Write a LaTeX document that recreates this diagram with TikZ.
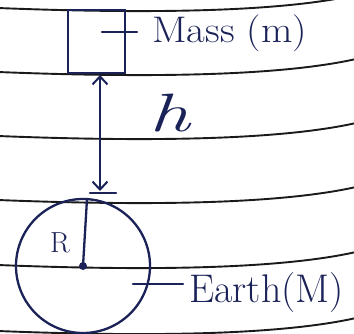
\documentclass[tikz,border=0pt]{standalone}
\usetikzlibrary{arrows.meta}
\definecolor{ink}{HTML}{1B2258}
\definecolor{rule}{HTML}{1A1A1A}
\tikzset{
  ruled/.style={draw=rule, line width=1.9pt},
  pen/.style={draw=ink, line width=2.3pt, line cap=round},
  hand/.style={text=ink, inner sep=0pt},
  barbs/.style={{Straight Barb[length=8pt,width=15pt,line width=2pt]}-{Straight Barb[length=8pt,width=15pt,line width=2pt]}}
}
\begin{document}
\begin{tikzpicture}[x=1pt,y=-1pt]
\useasboundingbox (0,0) rectangle (354,333);
\fill[white] (0,0) rectangle (354,333);
\begin{scope}
\clip (0,0) rectangle (354,333);
% ruled lines
\foreach \L in {8,72,136,200,265,331}{
  \draw[ruled] (-2,\L) .. controls (150,\L+6) and (280,\L+4) .. (356,\L-13);
}
% mass box
\node[pen, rectangle, minimum width=57pt, minimum height=63pt, inner sep=0pt] (mass) at (96.5,41.5) {};
% earth
\node[pen, circle, minimum size=134pt, inner sep=0pt] (earth) at (83,266) {};
\fill[ink] (earth.center) circle (4pt);
\coordinate (rtop) at (87,199);
\draw[pen] (earth.center) -- (rtop);
\node[hand, font=\fontsize{29}{29}\selectfont] (R) at (60,243) {R};
% tick at top of earth
\coordinate (tl) at (90,193);
\coordinate (tr) at (116,193);
\draw[pen] (tl) -- (tr);
% height arrow
\coordinate (atop) at (100,75);
\coordinate (abot) at (100,191);
\draw[pen, barbs] (atop) -- (abot);
\node[hand, font=\fontsize{54}{54}\selectfont\itshape] (h) at (170,113) {\scalebox{1.5}[1]{h}};
% labels
\coordinate (mt1) at (102,32);
\coordinate (mt2) at (137,32);
\draw[pen] (mt1) -- (mt2);
\node[hand, font=\fontsize{37}{37}\selectfont, anchor=west] (masslabel) at (152,33) {\scalebox{1.1}[1]{Mass (m)}};
\coordinate (et1) at (133,284);
\coordinate (et2) at (183,284);
\draw[pen] (et1) -- (et2);
\node[hand, font=\fontsize{40}{40}\selectfont, anchor=west] (earthlabel) at (189,293) {Earth(M)};
\end{scope}
\end{tikzpicture}
\end{document}
